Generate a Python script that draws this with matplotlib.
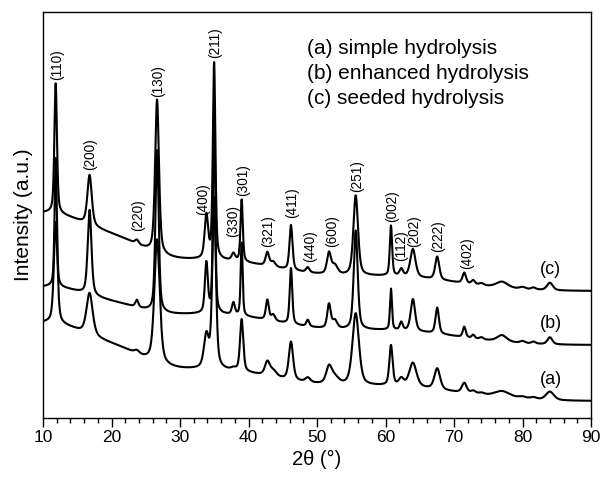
import numpy as np
import matplotlib.pyplot as plt

plt.rcParams['font.family'] = ['Liberation Sans', 'DejaVu Sans']

# Peak list (2theta in degrees, intensity in a.u.)
peak_pos = [11.85, 16.8, 23.7, 26.65, 33.85, 34.98, 37.8, 39.0, 42.75, 43.6,
            46.2, 48.65, 51.75, 52.6, 55.65, 60.8, 62.3, 64.0, 67.55, 71.5,
            72.8, 74.0, 77.0, 80.0, 81.6, 84.0]
peak_hwhm = [0.22, 0.38, 0.3, 0.33, 0.3, 0.22, 0.3, 0.2, 0.3, 0.4,
             0.26, 0.3, 0.35, 0.5, 0.4, 0.2, 0.3, 0.45, 0.35, 0.3,
             0.3, 0.4, 1.0, 0.5, 0.4, 0.5]
amp_a = [101, 42, 3, 124, 32, 170, 2, 52, 13.5, 6,
         38, 4.5, 16.5, 7, 72, 40, 7, 24, 21, 10,
         3, 2, 6.5, 2, 2, 8.5]
amp_b = [129, 85, 7, 162, 50, 213, 12, 73, 20, 6,
         56, 6.5, 24, 8, 99, 41, 8, 32, 26, 10.5,
         3.5, 2, 6.5, 2, 2, 7]
amp_c = [130, 50, 4, 154, 43, 196, 7, 62, 13.5, 5,
         45, 5, 21, 9, 80, 50, 7, 28, 23, 10.5,
         4, 2, 6, 2, 2, 7.5]

# broad background humps: centre, width and height for each sample
halo_pos = [10.0, 22.0, 35.0, 62.0]
halo_width = [8.5, 3.5, 11.0, 9.0]
halo_a = [76, 9, 30, 13]
halo_b = [56, 5, 30, 13]
halo_c = [76, 9, 30, 13]

# baseline offset of each stacked pattern and peak broadening factor
offset_a, offset_b, offset_c = 17, 73, 127
width_a, width_b, width_c = 1.4, 0.85, 1.0

hkl = ['(110)', '(200)', '(220)', '(130)', '(400)', '(211)', '(330)', '(301)', '(321)',
       '(411)', '(440)', '(600)', '(251)', '(002)', '(112)', '(202)', '(222)', '(402)']
hkl_x = [11.99, 16.86, 23.87, 26.79, 33.36, 35.2, 37.69, 39.2, 42.85,
         46.3, 48.98, 52.15, 55.8, 61.0, 62.3, 64.22, 67.66, 71.85]
hkl_gap = [3, 5, 8, 3, 6, 4, 16, 3, 5, 7, 5, 5, 3, 3, 7, 2, 4, 3]

legend_lines = ['(a) simple hydrolysis', '(b) enhanced hydrolysis', '(c) seeded hydrolysis']

two_theta = np.linspace(10, 90, 4001)


def pattern(amps, wscale, halos, offset):
    y = np.full_like(two_theta, float(offset))
    for x0, g, a in zip(peak_pos, peak_hwhm, amps):
        d = (two_theta - x0) / (g * wscale)
        y += a * (0.5 / (1 + d ** 2) + 0.5 * np.exp(-np.log(2) * d ** 2))
    for x0, s, h in zip(halo_pos, halo_width, halos):
        y += h * np.exp(-0.5 * ((two_theta - x0) / s) ** 2)
    return y


curve_a = pattern(amp_a, width_a, halo_a, offset_a)
curve_b = pattern(amp_b, width_b, halo_b, offset_b)
curve_c = pattern(amp_c, width_c, halo_c, offset_c)

fig = plt.figure(figsize=(6, 4.78), dpi=100)
ax = fig.add_axes([43 / 600, 1 - 418 / 478, 548 / 600, 406 / 478])

for curve in (curve_a, curve_b, curve_c):
    ax.plot(two_theta, curve, color='black', linewidth=1.5)

ax.set_xlim(10, 90)
ax.set_ylim(0, 406)
ax.set_yticks([])
ax.set_xticks(range(10, 91, 10))
ax.set_xticks(range(10, 91, 2), minor=True)
ax.tick_params(axis='x', which='major', direction='out', length=6.5, width=1, labelsize=12.5, pad=2)
ax.tick_params(axis='x', which='minor', direction='out', length=3.6, width=1)
for sp in ax.spines.values():
    sp.set_linewidth(1.0)

ax.set_xlabel('2\u03b8 (\u00b0)', fontsize=14.5, labelpad=4)
ax.set_ylabel('Intensity (a.u.)', fontsize=15, labelpad=7)

# Miller index labels above the top pattern
for label, x, gap in zip(hkl, hkl_x, hkl_gap):
    near = np.abs(two_theta - x) < 0.35
    ax.text(x, curve_c[near].max() + gap, label, rotation=90, ha='center', va='bottom', fontsize=9.8)

# sample tags at the right end of each pattern
for tag, curve in zip(['(a)', '(b)', '(c)'], (curve_a, curve_b, curve_c)):
    ax.text(84.1, curve[np.abs(two_theta - 86) < 0.5].mean() + 12, tag, ha='center', va='bottom', fontsize=13)

for i, line in enumerate(legend_lines):
    ax.text(0.482, 0.911 - i * 0.0615, line, transform=ax.transAxes, ha='left', va='center', fontsize=15)

fig.savefig('out.png', dpi=100)
